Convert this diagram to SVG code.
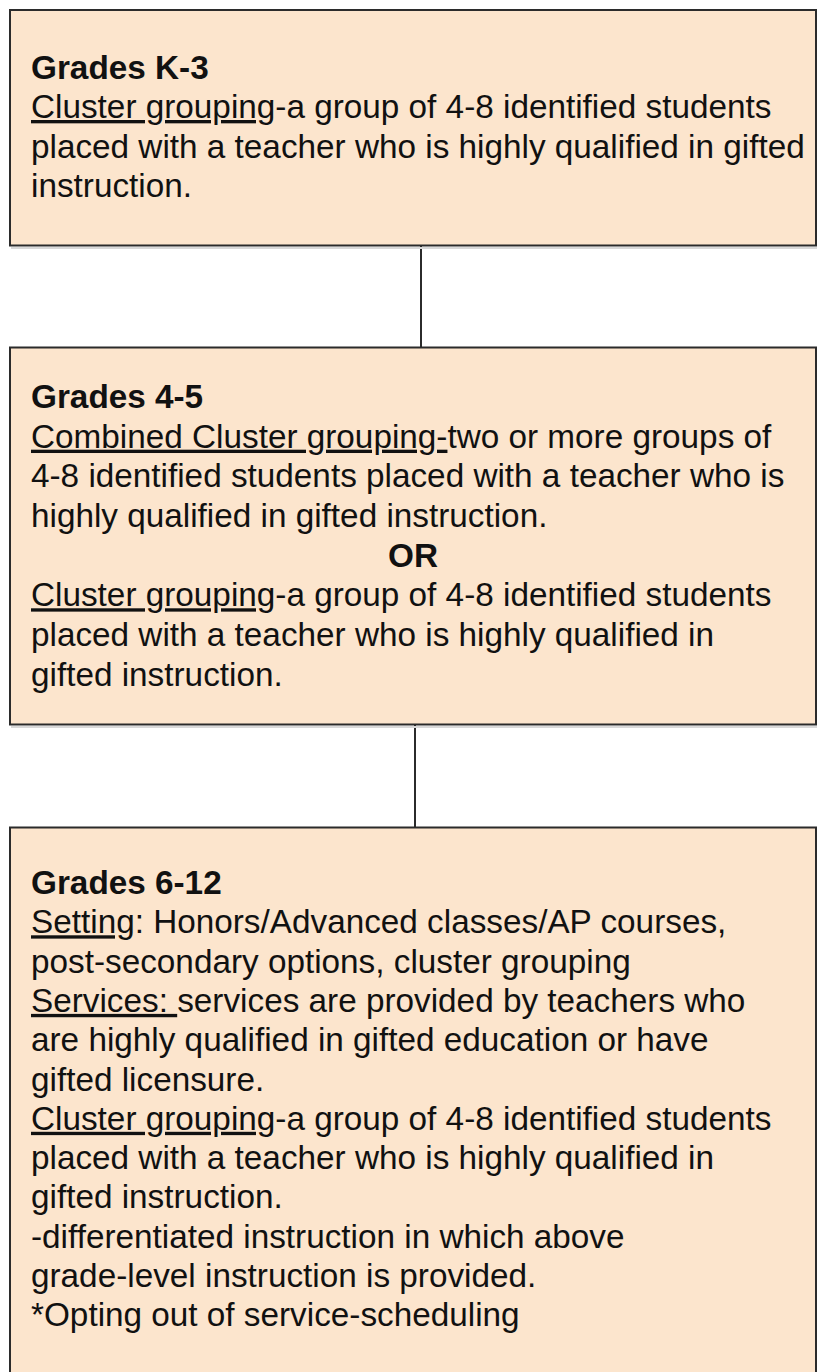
<svg xmlns="http://www.w3.org/2000/svg" width="817" height="1372" viewBox="0 0 817 1372">
<style>
.box{fill:#fce5cd;stroke:#2b2b2b;stroke-width:2}
.shadow{fill:none;stroke:#d9d9d9;stroke-width:2}
.t{font-family:"Liberation Sans",Arial,sans-serif;font-size:33.3px;fill:#111}
.b{font-weight:bold}
.u{text-decoration:underline}
.conn{stroke:#2b2b2b;stroke-width:2;fill:none}
</style>
<rect width="817" height="1372" fill="#ffffff"/>
<g id="connectors">
<line class="conn" x1="421" y1="246" x2="421" y2="347"/>
<line class="conn" x1="415" y1="725" x2="415" y2="827"/>
</g>
<g id="node-k3">
<line class="shadow" x1="11" y1="248" x2="817" y2="248"/>
<rect class="box" x="10" y="10" width="806" height="235.5"/>
<text class="t b" x="31" y="78.5">Grades K-3</text>
<text class="t" x="31" y="118"><tspan class="u">Cluster grouping</tspan>-a group of 4-8 identified students</text>
<text class="t" x="31" y="157.5">placed with a teacher who is highly qualified in gifted</text>
<text class="t" x="31" y="197">instruction.</text>
</g>
<g id="node-45">
<line class="shadow" x1="11" y1="727" x2="817" y2="727"/>
<rect class="box" x="10" y="347.5" width="806" height="377"/>
<text class="t b" x="31" y="408">Grades 4-5</text>
<text class="t" x="31" y="447.7"><tspan class="u">Combined Cluster grouping-</tspan>two or more groups of</text>
<text class="t" x="31" y="487.3">4-8 identified students placed with a teacher who is</text>
<text class="t" x="31" y="527">highly qualified in gifted instruction.</text>
<text class="t b" x="413" y="566.7" text-anchor="middle">OR</text>
<text class="t" x="31" y="606.3"><tspan class="u">Cluster grouping</tspan>-a group of 4-8 identified students</text>
<text class="t" x="31" y="646">placed with a teacher who is highly qualified in</text>
<text class="t" x="31" y="685.7">gifted instruction.</text>
</g>
<g id="node-612">
<rect class="box" x="10" y="827.5" width="806" height="560"/>
<text class="t b" x="31" y="894">Grades 6-12</text>
<text class="t" x="31" y="933.3"><tspan class="u">Setting</tspan>: Honors/Advanced classes/AP courses,</text>
<text class="t" x="31" y="972.6">post-secondary options, cluster grouping</text>
<text class="t" x="31" y="1011.9" xml:space="preserve"><tspan class="u">Services: </tspan>services are provided by teachers who</text>
<text class="t" x="31" y="1051.2">are highly qualified in gifted education or have</text>
<text class="t" x="31" y="1090.5">gifted licensure.</text>
<text class="t" x="31" y="1129.8"><tspan class="u">Cluster grouping</tspan>-a group of 4-8 identified students</text>
<text class="t" x="31" y="1169.1">placed with a teacher who is highly qualified in</text>
<text class="t" x="31" y="1208.4">gifted instruction.</text>
<text class="t" x="31" y="1247.7">-differentiated instruction in which above</text>
<text class="t" x="31" y="1287">grade-level instruction is provided.</text>
<text class="t" x="31" y="1326.3">*Opting out of service-scheduling</text>
</g>
</svg>
